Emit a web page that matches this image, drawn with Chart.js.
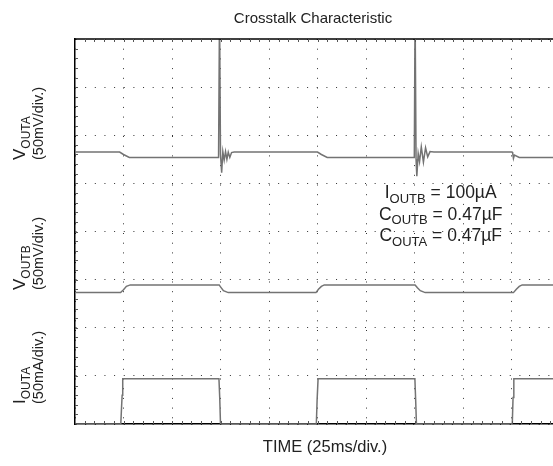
<!DOCTYPE html>
<html>
<head>
<meta charset="utf-8">
<title>Crosstalk Characteristic</title>
<script src="https://cdn.jsdelivr.net/npm/chart.js@4.4.0/dist/chart.umd.min.js"></script>
<style>
  html, body { margin: 0; padding: 0; background: #fff; overflow: hidden; }
  #wrap { width: 600px; height: 466px; }
</style>
</head>
<body>
<div id="wrap"><canvas id="scope" width="600" height="466"></canvas></div>
<script>
const FONT = '"Liberation Sans", Arial, Helvetica, sans-serif';

// time axis in ms (25 ms/div, 10 div), vertical axis in screen divisions (8 div)
const timeMax = 250;
const divMax = 8;

// V_OUTA trace
const voutATime = [0, 23, 25, 28, 74.0, 74.5, 75.0, 75.6, 76.2, 76.9, 77.6, 78.3, 79.0, 79.8, 80.7, 82, 100,
  125, 127, 130, 174.9, 175.3, 175.8, 176.2, 176.9, 177.6, 178.5, 179.6, 180.7, 181.8, 183, 185, 200,
  225.3, 225.6, 226.0, 226.5, 229, 250];
const voutAValue = [5.65, 5.65, 5.60, 5.54, 5.54, 8.6, 5.60, 5.22, 5.66, 5.48, 5.66, 5.50, 5.65, 5.54, 5.64, 5.65, 5.65,
  5.65, 5.60, 5.54, 5.54, 8.6, 5.50, 5.15, 5.62, 5.45, 5.76, 5.44, 5.74, 5.55, 5.66, 5.65, 5.65,
  5.65, 5.63, 5.52, 5.59, 5.54, 5.54];

// V_OUTB trace
const voutBTime = [0, 23.5, 25, 26.5, 28.5, 74.3, 75.2, 76.5, 79, 124.2, 125.5, 127, 128.5,
  175.3, 176.5, 178, 180.5, 226, 227.5, 229, 230.5, 250];
const voutBValue = [2.73, 2.73, 2.79, 2.86, 2.89, 2.89, 2.84, 2.77, 2.73, 2.73, 2.80, 2.86, 2.89,
  2.89, 2.83, 2.77, 2.73, 2.73, 2.80, 2.86, 2.89, 2.89];

// I_OUTA trace
const ioutATime = [0, 23.6, 24.0, 24.3, 24.6, 74.2, 74.6, 75.0, 124.4, 124.8, 125.3,
  175.2, 175.6, 176.0, 225.4, 225.8, 226.2, 250];
const ioutAValue = [0, 0, 0.35, 0.6, 0.94, 0.94, 0.55, 0, 0, 0.5, 0.94,
  0.94, 0.5, 0, 0, 0.55, 0.94, 0.94];

const titleText = 'Crosstalk Characteristic';
const xTitle = 'TIME (25ms/div.)';
const yLabels = [
  { name: [['V', false], ['OUTA', true]], unit: '(50mV/div.)' },
  { name: [['V', false], ['OUTB', true]], unit: '(50mV/div.)' },
  { name: [['I', false], ['OUTA', true]], unit: '(50mA/div.)' }
];
const noteLines = [
  [['I', false], ['OUTB', true], [' = 100µA', false]],
  [['C', false], ['OUTB', true], [' = 0.47µF', false]],
  [['C', false], ['OUTA', true], [' = 0.47µF', false]]
];

function toPoints(ts, vs) {
  return ts.map((t, i) => ({ x: t, y: vs[i] }));
}

function drawRich(ctx, parts, x, y, size, align) {
  const subSize = Math.round(size * 0.72);
  let w = 0;
  parts.forEach(([t, sub]) => {
    ctx.font = (sub ? subSize : size) + 'px ' + FONT;
    w += ctx.measureText(t).width;
  });
  let cx = align === 'center' ? x - w / 2 : x;
  ctx.textAlign = 'left';
  parts.forEach(([t, sub]) => {
    ctx.font = (sub ? subSize : size) + 'px ' + FONT;
    ctx.fillText(t, cx, sub ? y + size * 0.28 : y);
    cx += ctx.measureText(t).width;
  });
}

const scopeDecor = {
  id: 'scopeDecor',
  afterDraw(chart) {
    const ctx = chart.ctx;
    const a = chart.chartArea;
    const xs = chart.scales.x;
    const ys = chart.scales.y;
    ctx.save();

    // top frame line
    ctx.strokeStyle = '#000';
    ctx.lineWidth = 1.5;
    ctx.beginPath();
    ctx.moveTo(a.left, a.top);
    ctx.lineTo(a.right, a.top);
    ctx.stroke();

    // small graticule ticks on the frame
    ctx.lineWidth = 1;
    ctx.strokeStyle = '#555';
    ctx.beginPath();
    for (let i = 1; i < 50; i++) {
      const px = Math.round(xs.getPixelForValue(i * 5)) + 0.5;
      ctx.moveTo(px, a.top); ctx.lineTo(px, a.top + 3);
      ctx.moveTo(px, a.bottom); ctx.lineTo(px, a.bottom - 3);
    }
    for (let i = 1; i < 40; i++) {
      const py = Math.round(ys.getPixelForValue(i * 0.2)) + 0.5;
      ctx.moveTo(a.left, py); ctx.lineTo(a.left + 3, py);
    }
    ctx.stroke();

    ctx.fillStyle = '#222';
    ctx.textBaseline = 'alphabetic';

    // title and x title
    ctx.textAlign = 'center';
    ctx.font = '15px ' + FONT;
    ctx.fillText(titleText, 313, 23);
    ctx.font = '16.5px ' + FONT;
    ctx.fillText(xTitle, 325, 452);

    // rotated y labels, one per trace band, both lines start at the band's foot
    const starts = [160, 290, 404];
    yLabels.forEach((lab, i) => {
      ctx.save();
      ctx.rotate(-Math.PI / 2);
      drawRich(ctx, lab.name, -starts[i], 25, 17, 'left');
      ctx.font = '14.5px ' + FONT;
      ctx.textAlign = 'left';
      ctx.fillText(lab.unit, -starts[i], 43);
      ctx.restore();
    });

    // condition notes
    const noteX = xs.getPixelForValue(188.5);
    noteLines.forEach((line, i) => {
      drawRich(ctx, line, noteX, 198 + i * 21.5, 17.5, 'center');
    });
    ctx.restore();
  }
};

const traceStyle = {
  borderColor: '#737373',
  borderWidth: 1.5,
  pointRadius: 0,
  tension: 0,
  fill: false
};

new Chart(document.getElementById('scope'), {
  type: 'line',
  data: {
    datasets: [
      Object.assign({ label: 'VOUTA', data: toPoints(voutATime, voutAValue) }, traceStyle),
      Object.assign({ label: 'VOUTB', data: toPoints(voutBTime, voutBValue) }, traceStyle),
      Object.assign({ label: 'IOUTA', data: toPoints(ioutATime, ioutAValue) }, traceStyle)
    ]
  },
  options: {
    responsive: false,
    devicePixelRatio: 1,
    animation: false,
    layout: { padding: { left: 75, right: 40, top: 39, bottom: 42 } },
    plugins: {
      legend: { display: false },
      tooltip: { enabled: false },
      title: { display: false }
    },
    scales: {
      x: {
        type: 'linear',
        min: 0,
        max: timeMax,
        ticks: { display: false, stepSize: 25 },
        grid: { color: '#333', lineWidth: 1, drawTicks: false },
        border: { display: true, color: '#000', width: 1.5, dash: [1, 8.7] }
      },
      y: {
        type: 'linear',
        min: 0,
        max: divMax,
        ticks: { display: false, stepSize: 1 },
        grid: { color: '#333', lineWidth: 1, drawTicks: false },
        border: { display: true, color: '#000', width: 1.5, dash: [1, 8.65] }
      }
    }
  },
  plugins: [scopeDecor]
});
</script>
</body>
</html>
